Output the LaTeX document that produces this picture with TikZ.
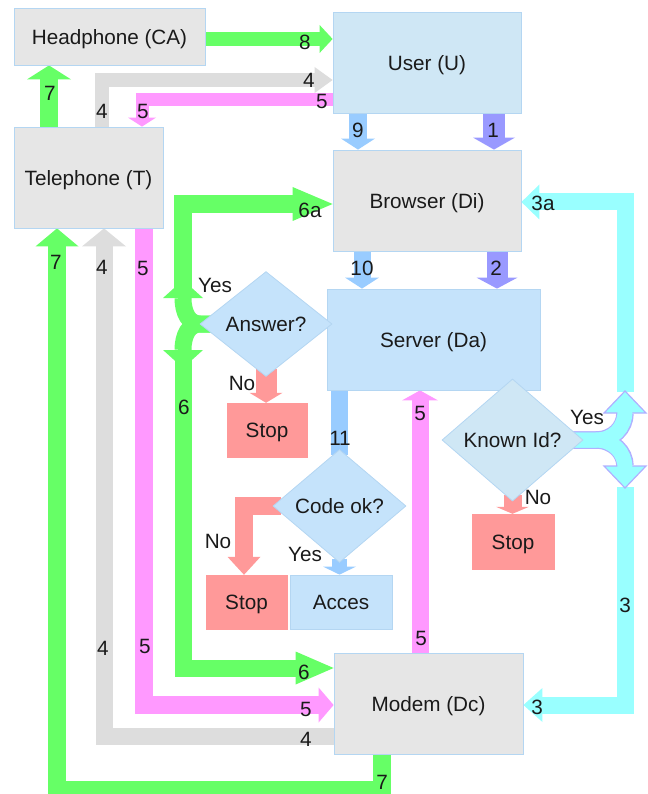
\documentclass[tikz,border=0pt]{standalone}
\usepackage{fontspec}
\setmainfont{Liberation Sans}
\usetikzlibrary{shapes.geometric,calc}
\pgfdeclarelayer{bg}
\pgfsetlayers{bg,main}
\definecolor{cgreen}{HTML}{66FF66}
\definecolor{cgray}{HTML}{DDDDDD}
\definecolor{cpink}{HTML}{FF99FF}
\definecolor{cblue}{HTML}{99CCFF}
\definecolor{cpurple}{HTML}{9999FF}
\definecolor{ccyan}{HTML}{99FFFF}
\definecolor{csalmon}{HTML}{FF9999}
\definecolor{clav}{HTML}{B0B0FF}
\definecolor{boxgray}{HTML}{E6E6E6}
\definecolor{ublue}{HTML}{CFE7F5}
\definecolor{sblue}{HTML}{C5E3FB}
\definecolor{bord}{HTML}{B4D6F2}
\definecolor{txt}{HTML}{1A1A1A}
% block-arrow heads: tip point, length, width, style
\newcommand\bhR[4]{\fill[#4] (#1) -- ++(-#2,-#3/2) -- ++(0,#3) -- cycle;}
\newcommand\bhL[4]{\fill[#4] (#1) -- ++(#2,-#3/2) -- ++(0,#3) -- cycle;}
\newcommand\bhU[4]{\fill[#4] (#1) -- ++(-#3/2,#2) -- ++(#3,0) -- cycle;}
\newcommand\bhD[4]{\fill[#4] (#1) -- ++(-#3/2,-#2) -- ++(#3,0) -- cycle;}
\begin{document}
\begin{tikzpicture}[x=1pt,y=-1pt,
  every node/.style={font=\fontsize{20.7}{24}\selectfont, text=txt, text height=20pt, text depth=4.3pt},
  box/.style={rectangle, draw=bord, line width=0.8pt, inner sep=0pt},
  dia/.style={diamond, draw=bord, line width=0.8pt, inner sep=0pt},
  stopbox/.style={rectangle, fill=csalmon, draw=csalmon, inner sep=0pt, minimum width=81pt, minimum height=54pt},
  lbl/.style={inner sep=0pt},
  shaft/.style={line width=#1, line cap=butt, line join=miter},
]
\useasboundingbox (0,0) rectangle (647,794);

% nodes
\node[box, fill=boxgray, minimum width=191pt, minimum height=57pt] (CA) at (109.5,36.5) {Headphone (CA)};
\node[box, fill=ublue, minimum width=188pt, minimum height=101pt] (U) at (427,62.5) {User (U)};
\node[box, fill=boxgray, minimum width=149pt, minimum height=101pt] (T) at (88.5,177.5) {Telephone (T)};
\node[box, fill=boxgray, minimum width=188pt, minimum height=101pt] (Di) at (427,200.5) {Browser (Di)};
\node[box, fill=sblue, minimum width=213pt, minimum height=101pt] (Da) at (433.5,339.5) {Server (Da)};
\node[dia, fill=sblue, minimum width=132pt, minimum height=104pt] (Ans) at (266,324) {Answer?};
\node[stopbox, minimum width=80pt] (S1) at (267,430) {Stop};
\node[dia, fill=ublue, minimum width=141pt, minimum height=100pt] (Kn) at (512.5,440) {Known Id?};
\node[stopbox, minimum width=82pt, minimum height=55pt] (S3) at (513,541.5) {Stop};
\node[dia, fill=sblue, minimum width=133pt, minimum height=96pt] (Co) at (339.5,506) {Code ok?};
\node[stopbox] (S2) at (246.5,602) {Stop};
\node[box, fill=sblue, minimum width=102pt, minimum height=54pt] (Ac) at (341,602) {Acces};
\node[box, fill=boxgray, minimum width=189pt, minimum height=101pt] (Md) at (428.5,703.5) {Modem (Dc)};

% routing coordinates
\coordinate (c8) at (0,39);
\coordinate (g4t) at (102,80);
\coordinate (p5t) at (142,100);
\coordinate (x7t) at (49,0);
\coordinate (x9) at (358,0);
\coordinate (x1) at (494,0);
\coordinate (x10) at (362,0);
\coordinate (x2) at (497,0);
\coordinate (x5u) at (420,0);
\coordinate (c3a) at (625,202);
\coordinate (c3) at (625,705);
\coordinate (cyu) at (625,392);
\coordinate (cyd) at (625,487);
\coordinate (g6a) at (183,204);
\coordinate (g6) at (183,668);
\coordinate (gfu) at (183,292);
\coordinate (gfd) at (183,358);
\coordinate (p5b) at (144,705);
\coordinate (g4b) at (104,736);
\coordinate (g7a) at (382,790);
\coordinate (g7b) at (57,790);
\coordinate (bNC) at (244,506);
\coordinate (af0) at (212,324);
\coordinate (af1) at (200,324);
\coordinate (afu) at (183,298);
\coordinate (afd) at (183,350);
\coordinate (afut) at (183,280);
\coordinate (afdt) at (183,368);
\coordinate (kf0) at (572,440);
\coordinate (kf1) at (596,440);
\coordinate (kfu) at (625,413);
\coordinate (kfd) at (625,466);
\coordinate (kfu2) at (625,411);
\coordinate (kfd2) at (625,468);
\coordinate (kfut) at (625,391);
\coordinate (kfdt) at (625,488);

\begin{pgfonlayer}{bg}
% 8
\draw[cgreen, shaft=14pt, shorten >=11pt] (c8 -| CA.east) -- (c8 -| U.west);
\bhR{c8 -| U.west}{13}{28}{cgreen}
% 4 (top)
\draw[cgray, shaft=14pt, shorten >=16pt] (g4t |- T.north) -- (g4t) -- (g4t -| U.west);
\bhR{g4t -| U.west}{18}{26}{cgray}
% 5 (top)
\draw[cpink, shaft=13pt, shorten >=8pt] (p5t -| U.west) -- (p5t) -- (p5t |- T.north);
\bhD{p5t |- T.north}{9}{28}{cpink}
% 7 (top)
\draw[cgreen, shaft=18pt, shorten >=12pt] (x7t |- T.north) -- (x7t |- CA.south);
\bhU{x7t |- CA.south}{14}{44}{cgreen}
% 9, 1
\draw[cblue, shaft=18pt, shorten >=9pt] (x9 |- U.south) -- (x9 |- Di.north);
\bhD{x9 |- Di.north}{11}{34}{cblue}
\draw[cpurple, shaft=22pt, shorten >=10pt] (x1 |- U.south) -- (x1 |- Di.north);
\bhD{x1 |- Di.north}{12}{42}{cpurple}
% 10, 2
\draw[cblue, shaft=17pt, shorten >=9pt] (x10 |- Di.south) -- (x10 |- Da.north);
\bhD{x10 |- Da.north}{11}{34}{cblue}
\draw[cpurple, shaft=21pt, shorten >=9pt] (x2 |- Di.south) -- (x2 |- Da.north);
\bhD{x2 |- Da.north}{11}{41}{cpurple}
% 3a, 3
\draw[ccyan, shaft=17pt, shorten >=16pt] (cyu) -- (c3a) -- (c3a -| Di.east);
\bhL{c3a -| Di.east}{18}{35}{ccyan}
\draw[ccyan, shaft=17pt, shorten >=17pt] (cyd) -- (c3) -- (c3 -| Md.east);
\bhL{c3 -| Md.east}{19}{34}{ccyan}
% 6a, 6
\draw[cgreen, shaft=18pt, shorten >=38pt] (gfu) -- (g6a) -- (g6a -| Di.west);
\bhR{g6a -| Di.west}{40}{34}{cgreen}
\draw[cgreen, shaft=17pt, shorten >=36pt] (gfd) -- (g6) -- (g6 -| Md.west);
\bhR{g6 -| Md.west}{38}{33}{cgreen}
% 5 (bottom)
\draw[cpink, shaft=18pt, shorten >=13pt] (p5b |- T.south) -- (p5b) -- (p5b -| Md.west);
\bhR{p5b -| Md.west}{15}{35}{cpink}
% 4 (bottom)
\draw[cgray, shaft=17pt, shorten >=16pt] (g4b -| Md.west) -- (g4b) -- (g4b |- T.south);
\bhU{g4b |- T.south}{18}{44}{cgray}
% 7 (bottom)
\draw[cgreen, shaft=18pt, shorten >=16pt] (g7a |- Md.south) -- (g7a) -- (g7b) -- (g7b |- T.south);
\bhU{g7b |- T.south}{18}{43}{cgreen}
% 5 (up to server)
\draw[cpink, shaft=17pt, shorten >=8pt] (x5u |- Md.north) -- (x5u |- Da.south);
\bhU{x5u |- Da.south}{10}{36}{cpink}
% 11
\draw[cblue, shaft=17pt] (Co.north |- Da.south) -- ($(Co.north)+(0,6)$);
% Code ok? yes / no
\draw[cblue, shaft=15pt, shorten >=6pt] ($(Co.south)+(0,-4)$) -- (Co.south |- Ac.north);
\bhD{Co.south |- Ac.north}{8}{33}{cblue}
\draw[csalmon, shaft=18pt, shorten >=16pt] ($(Co.west)+(8,0)$) -- (bNC) -- (bNC |- S2.north);
\bhD{bNC |- S2.north}{18}{33}{csalmon}
% Answer? no
\draw[csalmon, shaft=21pt, shorten >=8pt] ($(Ans.south)+(0,-8)$) -- (Ans.south |- S1.north);
\bhD{Ans.south |- S1.north}{10}{33}{csalmon}
% Known Id? no
\draw[csalmon, shaft=18pt, shorten >=5pt] ($(Kn.south)+(0,-6)$) -- (Kn.south |- S3.north);
\bhD{Kn.south |- S3.north}{7}{33}{csalmon}
% Answer? yes fork (green)
\draw[cgreen, shaft=17pt] (af0) -- (af1) .. controls (189,324) and (183,313) .. (afu);
\draw[cgreen, shaft=17pt] (af0) -- (af1) .. controls (189,324) and (183,335) .. (afd);
\bhU{afut}{18}{40}{cgreen}
\bhD{afdt}{18}{40}{cgreen}
% Known Id? yes fork (cyan)
\draw[clav, shaft=17.5pt] (kf0) -- (kf1) .. controls (613,440) and (625,428) .. (kfu);
\draw[clav, shaft=17.5pt] (kf0) -- (kf1) .. controls (613,440) and (625,452) .. (kfd);
\bhU{kfut}{22}{42}{fill=ccyan, draw=clav, line width=1.2pt}
\bhD{kfdt}{22}{42}{fill=ccyan, draw=clav, line width=1.2pt}
\draw[ccyan, shaft=15pt] (kf0) -- (kf1) .. controls (613,440) and (625,428) .. (kfu2);
\draw[ccyan, shaft=15pt] (kf0) -- (kf1) .. controls (613,440) and (625,452) .. (kfd2);
\end{pgfonlayer}

% labels
\node[lbl] (l8) at (305,42) {8};
\node[lbl] (l4a) at (309,80) {4};
\node[lbl] (l5a) at (322,101) {5};
\node[lbl] (l4b) at (102,111) {4};
\node[lbl] (l5b) at (143,111) {5};
\node[lbl] (l7a) at (50,93) {7};
\node[lbl] (l6a) at (310,210) {6a};
\node[lbl] (l9) at (358,130) {9};
\node[lbl] (l1) at (493,130) {1};
\node[lbl] (l10) at (362,268) {10};
\node[lbl] (l2) at (496,268) {2};
\node[lbl] (l3a) at (543,203) {3a};
\node[lbl] (l7b) at (56,262) {7};
\node[lbl] (l4c) at (102,267) {4};
\node[lbl] (l5c) at (143,268) {5};
\node[lbl] (lYesA) at (215,285) {Yes};
\node[lbl] (lNoA) at (242,383) {No};
\node[lbl] (l6) at (184,407) {6};
\node[lbl] (l11) at (340,438) {11};
\node[lbl] (lNoC) at (218,541) {No};
\node[lbl] (lYesC) at (305,554) {Yes};
\node[lbl] (lYesK) at (587,417) {Yes};
\node[lbl] (lNoK) at (538,497) {No};
\node[lbl] (l5d) at (420,413) {5};
\node[lbl] (l3b) at (625,605) {3};
\node[lbl] (l4d) at (103,648) {4};
\node[lbl] (l5e) at (145,646) {5};
\node[lbl] (l6b) at (304,672) {6};
\node[lbl] (l5f) at (306,709) {5};
\node[lbl] (l4e) at (306,739) {4};
\node[lbl, text height=15pt, text depth=0pt] (l7c) at (382,782) {7};
\node[lbl] (l5g) at (421,638) {5};
\node[lbl] (l3c) at (537,707) {3};
\end{tikzpicture}
\end{document}
